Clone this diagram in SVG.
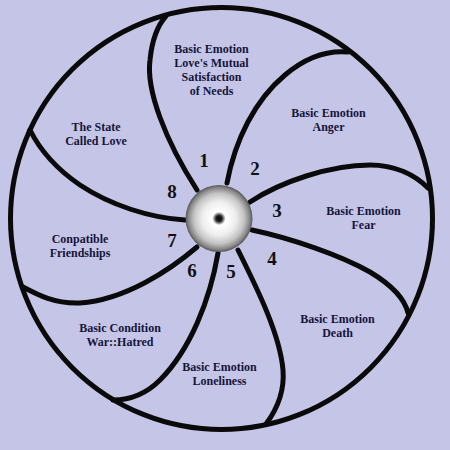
<svg xmlns="http://www.w3.org/2000/svg" width="450" height="450" viewBox="0 0 450 450">
<defs>
<radialGradient id="ball" cx="0.5" cy="0.5" r="0.5">
<stop offset="0" stop-color="#000"/>
<stop offset="0.09" stop-color="#222"/>
<stop offset="0.2" stop-color="#fff"/>
<stop offset="0.5" stop-color="#eee"/>
<stop offset="0.75" stop-color="#c4c4c4"/>
<stop offset="0.92" stop-color="#858585"/>
<stop offset="1" stop-color="#555"/>
</radialGradient>
</defs>
<style>
.spoke{fill:none;stroke:#0a0a0a;stroke-width:5;stroke-linecap:round}
.lbl{font-family:"Liberation Serif","Times New Roman",serif;font-weight:bold;font-size:12px;fill:#15153a;text-anchor:middle}
.num{font-family:"Liberation Serif","Times New Roman",serif;font-weight:bold;font-size:19px;fill:#111;text-anchor:middle}
</style>
<rect width="450" height="450" fill="#c5c5e7"/>
<g id="rim"><circle cx="221.5" cy="218.5" r="211" fill="none" stroke="#0a0a0a" stroke-width="5"/></g>
<g id="connectors">
<path class="spoke" d="M197,190 C165,140 146,90 150,60 C152,40 158,25 166,16"/>
<path class="spoke" d="M227,183 C235,140 255,100 285,75 C305,58 325,50 348,52"/>
<path class="spoke" d="M250,202 C280,182 330,165 370,165 C395,165 415,175 428,188"/>
<path class="spoke" d="M252,230 C290,238 340,255 370,272 C395,287 405,300 408,313"/>
<path class="spoke" d="M238,250 C258,290 280,335 283,370 C285,395 275,412 266,424"/>
<path class="spoke" d="M218,253 C210,300 190,350 160,380 C145,395 128,400 113,400"/>
<path class="spoke" d="M197,247 C170,270 125,300 80,303 C55,304 38,295 23,287"/>
<path class="spoke" d="M185,220 C150,218 110,205 80,185 C58,170 40,150 30,130"/>
</g>
<g id="hub"><circle cx="219" cy="218.5" r="33.5" fill="url(#ball)"/></g>
<g id="numbers">
<text class="num" x="204" y="167">1</text>
<text class="num" x="255" y="175">2</text>
<text class="num" x="277" y="217">3</text>
<text class="num" x="272" y="265">4</text>
<text class="num" x="231" y="278">5</text>
<text class="num" x="192" y="277">6</text>
<text class="num" x="172" y="247">7</text>
<text class="num" x="172" y="198">8</text>
</g>
<g id="sector1"><text class="lbl" x="211.5" y="53">Basic Emotion<tspan x="211.5" dy="14">Love's Mutual</tspan><tspan x="211.5" dy="14">Satisfaction</tspan><tspan x="211.5" dy="14">of Needs</tspan></text></g>
<g id="sector2"><text class="lbl" x="328.5" y="117">Basic Emotion<tspan x="328.5" dy="14">Anger</tspan></text></g>
<g id="sector3"><text class="lbl" x="363.5" y="215">Basic Emotion<tspan x="363.5" dy="14">Fear</tspan></text></g>
<g id="sector4"><text class="lbl" x="337.5" y="323">Basic Emotion<tspan x="337.5" dy="14">Death</tspan></text></g>
<g id="sector5"><text class="lbl" x="219.5" y="371">Basic Emotion<tspan x="219.5" dy="14">Loneliness</tspan></text></g>
<g id="sector6"><text class="lbl" x="120" y="332">Basic Condition<tspan x="120" dy="14">War::Hatred</tspan></text></g>
<g id="sector7"><text class="lbl" x="80" y="243">Conpatible<tspan x="80" dy="14">Friendships</tspan></text></g>
<g id="sector8"><text class="lbl" x="96" y="131">The State<tspan x="96" dy="14">Called Love</tspan></text></g>
</svg>
